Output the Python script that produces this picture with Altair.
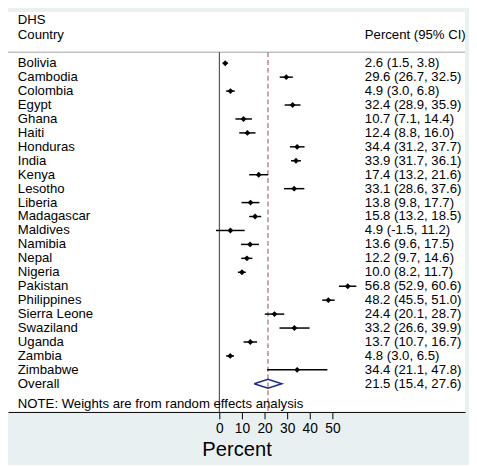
import altair as alt
import pandas as pd

countries = ["Bolivia", "Cambodia", "Colombia", "Egypt", "Ghana", "Haiti", "Honduras",
             "India", "Kenya", "Lesotho", "Liberia", "Madagascar", "Maldives", "Namibia",
             "Nepal", "Nigeria", "Pakistan", "Philippines", "Sierra Leone", "Swaziland",
             "Uganda", "Zambia", "Zimbabwe"]
est = [2.6, 29.6, 4.9, 32.4, 10.7, 12.4, 34.4, 33.9, 17.4, 33.1, 13.8, 15.8, 4.9, 13.6,
       12.2, 10.0, 56.8, 48.2, 24.4, 33.2, 13.7, 4.8, 34.4]
lo = [1.5, 26.7, 3.0, 28.9, 7.1, 8.8, 31.2, 31.7, 13.2, 28.6, 9.8, 13.2, -1.5, 9.6,
      9.7, 8.2, 52.9, 45.5, 20.1, 26.6, 10.7, 3.0, 21.1]
hi = [3.8, 32.5, 6.8, 35.9, 14.4, 16.0, 37.7, 36.1, 21.6, 37.6, 17.7, 18.5, 11.2, 17.5,
      14.6, 11.7, 60.6, 51.0, 28.7, 39.9, 16.7, 6.5, 47.8]
overall_label = "Overall"
overall = [21.5, 15.4, 27.6]
tick_values = [0, 10, 20, 30, 40, 50]
header_left = ["DHS", "Country"]
header_right = "Percent (95% CI)"
note = "NOTE: Weights are from random effects analysis"

FONT = "Liberation Sans"
FS = 13.4
W, H = 465, 407

rows = pd.DataFrame({
    "country": countries + [overall_label],
    "est": est + [overall[0]],
    "lo": lo + [overall[1]],
    "hi": hi + [overall[2]],
    "row": list(range(len(countries) + 1)),
})
rows["ci"] = rows.apply(lambda r: f"{r.est:.1f} ({r.lo:.1f}, {r.hi:.1f})", axis=1)
studies = rows.iloc[:-1]

orow = len(countries)
dh = 0.32
diamond = pd.DataFrame({
    "x": [overall[1], overall[0], overall[2], overall[0], overall[1]],
    "y": [orow, orow - dh, orow, orow + dh, orow],
    "o": [0, 1, 2, 3, 4],
})

xscale = alt.Scale(domain=[-93.5, 108.7], nice=False, zero=False)
yscale = alt.Scale(domain=[-3.681, 25.02], nice=False, zero=False, reverse=True)

xaxis = alt.Axis(values=tick_values, grid=False, domainColor="black", domainWidth=1,
                 tickColor="black", tickSize=7, labelFontSize=14, labelFont=FONT,
                 labelColor="black", labelPadding=3, title="Percent", titleFont=FONT,
                 titleFontSize=20.5, titleFontWeight="normal", titleColor="black",
                 titlePadding=4)

ci_rules = alt.Chart(studies).mark_rule(color="black", strokeWidth=1.5).encode(
    x=alt.X("lo:Q", scale=xscale, axis=xaxis),
    x2="hi:Q",
    y=alt.Y("row:Q", scale=yscale, axis=None),
)
points = alt.Chart(studies).mark_point(shape="diamond", filled=True, color="black",
                                       size=36, opacity=1).encode(
    x=alt.X("est:Q", scale=xscale),
    y=alt.Y("row:Q", scale=yscale),
)

zero_line = alt.Chart(pd.DataFrame({"x": [0]})).mark_rule(
    color="#333333", strokeWidth=1).encode(
    x=alt.X("x:Q", scale=xscale), y=alt.value(41), y2=alt.value(H))
ref_line = alt.Chart(pd.DataFrame({"x": [overall[0]]})).mark_rule(
    color="#b06a76", strokeWidth=1.2, strokeDash=[5, 3]).encode(
    x=alt.X("x:Q", scale=xscale), y=alt.value(41), y2=alt.value(H))

diamond_layer = alt.Chart(diamond).mark_line(color="#1f2a8c", strokeWidth=1.6).encode(
    x=alt.X("x:Q", scale=xscale), y=alt.Y("y:Q", scale=yscale), order="o:Q")

txt = dict(align="left", baseline="middle", font=FONT, fontSize=FS, color="black")

names = alt.Chart(rows).mark_text(**txt).encode(
    x=alt.value(10), y=alt.Y("row:Q", scale=yscale), text="country:N")
cis = alt.Chart(rows).mark_text(**txt).encode(
    x=alt.value(363), y=alt.Y("row:Q", scale=yscale), text="ci:N")

one = pd.DataFrame({"a": [0]})
h1 = alt.Chart(one).mark_text(**txt).encode(
    x=alt.value(10), y=alt.value(8), text=alt.value(header_left[0]))
h2 = alt.Chart(one).mark_text(**txt).encode(
    x=alt.value(10), y=alt.value(24), text=alt.value(header_left[1]))
h3 = alt.Chart(one).mark_text(**txt).encode(
    x=alt.value(363), y=alt.value(24), text=alt.value(header_right))

hline = alt.Chart(one).mark_rule(color="#a0a0a0", strokeWidth=1).encode(
    x=alt.value(0), x2=alt.value(W), y=alt.value(41))

note_layer = alt.Chart(one).mark_text(**txt).encode(
    x=alt.value(10), y=alt.value(399), text=alt.value(note))

chart = alt.layer(
    hline, zero_line, ref_line, ci_rules, points, diamond_layer,
    names, cis, h1, h2, h3, note_layer
).properties(
    width=W, height=H,
    autosize=alt.AutoSizeParams(type="none"),
    padding={"left": 0, "top": 0, "right": 4, "bottom": 50},
    background="#e8f0f2",
).configure_view(fill="white", stroke=None)

chart.save("out.html", embed_options={"renderer": "svg", "actions": False})
